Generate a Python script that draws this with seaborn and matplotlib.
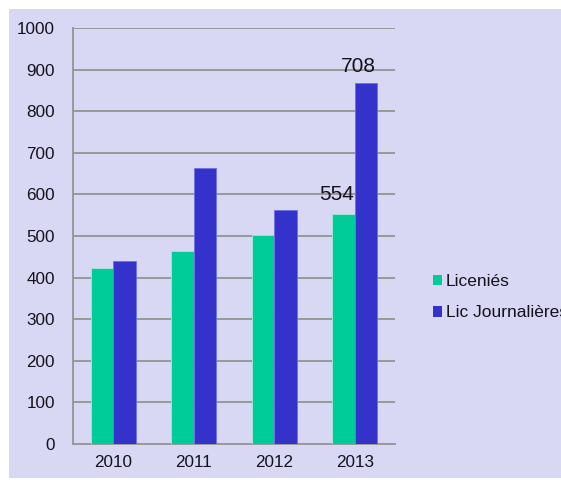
import matplotlib
matplotlib.use("Agg")
import matplotlib.pyplot as plt
import matplotlib.patches as mpatches
from matplotlib.ticker import FixedLocator, MultipleLocator
import seaborn as sns
import pandas as pd

years = ["2010", "2011", "2012", "2013"]
licenies = [422, 464, 502, 553]
journalieres = [441, 663, 562, 868]
series_names = ["Liceniés", "Lic Journalières"]
annot_texts = ["554", "708"]

sns.set_style("white")
plt.rcParams["font.family"] = ["Liberation Sans", "DejaVu Sans"]

df = pd.DataFrame({
    "year": years * 2,
    "value": licenies + journalieres,
    "serie": [series_names[0]] * len(years) + [series_names[1]] * len(years),
})

bg = "#d8d8f4"
green = "#00cc99"
blue = "#3333cc"
grid_c = "#999999"
txt_c = "#15121c"

fig = plt.figure(figsize=(5.61, 4.82), dpi=100)
fig.patch.set_facecolor("white")
fig.patches.append(mpatches.Rectangle((9 / 561, 1 - 478 / 482), 552 / 561, 469 / 482,
                                      transform=fig.transFigure, facecolor=bg,
                                      edgecolor="none", zorder=-10))

ax = fig.add_axes([73 / 561, 1 - 444 / 482, 322 / 561, 416 / 482])
ax.set_facecolor("none")

sns.barplot(data=df, x="year", y="value", hue="serie", palette=[green, blue],
            width=0.56, ax=ax, saturation=1, legend=False, zorder=3)
for i, p in enumerate(ax.patches):
    p.set_edgecolor("#a8e8d8" if i < len(years) else "#7070e0")
    p.set_linewidth(0.6)

ax.set_xlim(-0.5, 3.5)
ax.set_ylim(0, 1000)
ax.yaxis.set_major_locator(MultipleLocator(100))
ax.set_xlabel("")
ax.set_ylabel("")

ax.grid(axis="y", color=grid_c, linewidth=1.4, zorder=0)
ax.set_axisbelow(True)
for s in ["top", "right"]:
    ax.spines[s].set_visible(False)
for s in ["left", "bottom"]:
    ax.spines[s].set_color(grid_c)
    ax.spines[s].set_linewidth(1.4)

ax.tick_params(axis="y", length=5, width=1.4, color=grid_c, labelsize=12.3,
               labelcolor=txt_c, pad=8)
ax.tick_params(axis="x", which="major", length=0, labelsize=12.3, labelcolor=txt_c, pad=8)
ax.xaxis.set_minor_locator(FixedLocator([-0.5, 0.5, 1.5, 2.5, 3.5]))
ax.tick_params(axis="x", which="minor", length=5, width=1.4, color=grid_c)

# annotations on the 2013 bars
g_bar = ax.patches[3]
b_bar = ax.patches[7]
ax.text(g_bar.get_x() + g_bar.get_width() * 0.2, 600, annot_texts[0], fontsize=15,
        color=txt_c, ha="center", va="center", zorder=5)
ax.text(b_bar.get_x() + b_bar.get_width() * 0.15, 908, annot_texts[1], fontsize=15,
        color=txt_c, ha="center", va="center", zorder=5)

handles = [mpatches.Patch(facecolor=green, edgecolor="none"),
           mpatches.Patch(facecolor=blue, edgecolor="none")]
fig.legend(handles, series_names, loc="upper left", bbox_to_anchor=(426 / 561, 1 - 267 / 482),
           frameon=False, fontsize=12.5, handlelength=0.55, handleheight=0.55,
           handletextpad=0.2, labelspacing=0.95, labelcolor=txt_c, borderaxespad=0)

fig.savefig("out.png", dpi=100, facecolor="white")
